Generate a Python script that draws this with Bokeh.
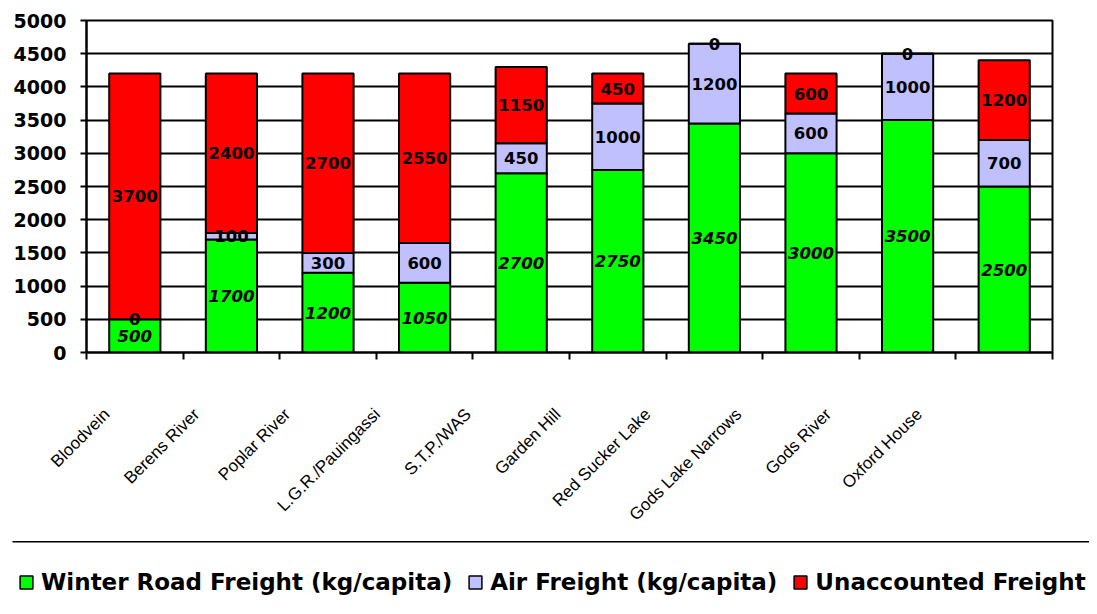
from bokeh.plotting import figure
from bokeh.models import (ColumnDataSource, FixedTicker, Range1d, LinearAxis,
                          Legend, LegendItem)
from bokeh.layouts import column
from bokeh.core.properties import value
from bokeh.embed import file_html
from bokeh.resources import INLINE
import math

communities = ["Bloodvein", "Berens River", "Poplar River", "L.G.R./Pauingassi",
               "S.T.P./WAS", "Garden Hill", "Red Sucker Lake", "Gods Lake Narrows",
               "Gods River", "Oxford House"]
winter_road = [500, 1700, 1200, 1050, 2700, 2750, 3450, 3000, 3500, 2500]
air_freight = [0, 100, 300, 600, 450, 1000, 1200, 600, 1000, 700]
unaccounted = [3700, 2400, 2700, 2550, 1150, 450, 0, 600, 0, 1200]
series_names = ["Winter Road Freight (kg/capita)", "Air Freight (kg/capita)",
                "Unaccounted Freight"]
y_ticks = [0, 500, 1000, 1500, 2000, 2500, 3000, 3500, 4000, 4500, 5000]

colors = ["#00FF00", "#C0C0FF", "#FF0000"]
UNIT = 100  # x units per category
n = len(communities)
xc = [i * UNIT + UNIT / 2 for i in range(n)]
W = 1089

src = ColumnDataSource(dict(x=xc, winter=winter_road, air=air_freight, unacc=unaccounted))

p = figure(width=W, height=541, output_backend="svg", toolbar_location=None,
           x_range=Range1d(0, n * UNIT), y_range=Range1d(0, 5000),
           min_border_left=86, min_border_right=37, min_border_top=20,
           min_border_bottom=189)
p.frame_align = False
p.background_fill_color = "white"
p.border_fill_color = "white"
p.outline_line_color = "black"
p.outline_line_width = 2

rs = p.vbar_stack(["winter", "air", "unacc"], x="x", width=UNIT * 0.53, source=src,
                  fill_color=colors, line_color="black", line_width=2)

# data labels
cum0 = [0] * n
layers = [winter_road, air_freight, unaccounted]
styles = ["bold italic", "bold", "bold"]
for vals, st in zip(layers, styles):
    mids = [c + v / 2 for c, v in zip(cum0, vals)]
    lsrc = ColumnDataSource(dict(x=xc, y=mids, t=[str(v) for v in vals]))
    p.text(x="x", y="y", text="t", source=lsrc, text_align="center",
           text_baseline="middle", text_font=value("DejaVu Sans"),
           text_font_size="16.5px", text_font_style=st, text_color="black")
    cum0 = [c + v for c, v in zip(cum0, vals)]

# grid
p.xgrid.visible = False
p.ygrid.ticker = FixedTicker(ticks=y_ticks)
p.ygrid.grid_line_color = "black"
p.ygrid.grid_line_width = 2

# y axis
ya = p.yaxis[0]
ya.ticker = FixedTicker(ticks=y_ticks)
ya.axis_line_color = "black"
ya.axis_line_width = 2
ya.major_tick_out = 6
ya.major_tick_in = 0
ya.major_tick_line_width = 2
ya.minor_tick_line_color = None
ya.major_label_standoff = 14
ya.major_label_text_font = "DejaVu Sans"
ya.major_label_text_font_size = "19px"
ya.major_label_text_font_style = "bold"
ya.major_label_text_color = "black"

# x axis: category boundaries as small ticks; slanted labels anchored left of the bars
label_pos = [int(round(21 + 93.4 * i)) for i in range(n)]
xa = p.xaxis[0]
xa.ticker = FixedTicker(ticks=label_pos, minor_ticks=[i * UNIT for i in range(n + 1)])
xa.major_label_overrides = {pos: name for pos, name in zip(label_pos, communities)}
xa.major_tick_line_color = None
xa.major_tick_out = 0
xa.major_tick_in = 0
xa.minor_tick_out = 7
xa.minor_tick_in = 0
xa.minor_tick_line_color = "black"
xa.minor_tick_line_width = 2
xa.axis_line_color = "black"
xa.axis_line_width = 2
xa.major_label_orientation = math.pi / 4
xa.major_label_standoff = 52
xa.major_label_text_font = "Liberation Sans"
xa.major_label_text_font_size = "17px"
xa.major_label_text_color = "black"

# legend figure with separator line on top
p2 = figure(width=W, height=60, output_backend="svg", toolbar_location=None,
            x_range=Range1d(0, 1), y_range=Range1d(0, 1),
            x_axis_location=None, y_axis_location=None,
            min_border_left=12, min_border_right=0, min_border_top=0, min_border_bottom=0)
p2.frame_align = False
p2.outline_line_color = None
p2.xgrid.visible = False
p2.ygrid.visible = False
top_line = LinearAxis(ticker=FixedTicker(ticks=[]), axis_line_color="black",
                      axis_line_width=2, major_tick_line_color=None,
                      minor_tick_line_color=None, major_label_text_font_size="0px",
                      major_label_standoff=0, major_tick_out=0, major_tick_in=0)
p2.add_layout(top_line, "above")

items = []
for name, col in zip(series_names, colors):
    # legend swatch source: a zero-height bar placed outside the visible range
    r = p2.vbar(x=[2], top=[0], width=0.1, fill_color=col,
                line_color="black", line_width=1.5)
    items.append(LegendItem(label=name, renderers=[r]))
leg = Legend(items=items, orientation="horizontal", location=(6, 6),
             glyph_width=16, glyph_height=16, label_standoff=7, spacing=15,
             padding=0, margin=0, border_line_color=None,
             background_fill_alpha=0,
             label_text_font="DejaVu Sans", label_text_font_size="23px",
             label_text_font_style="bold", label_text_color="black")
p2.add_layout(leg, "center")

layout = column(p, p2, spacing=0)
open("out.html", "w").write(file_html(layout, INLINE))
